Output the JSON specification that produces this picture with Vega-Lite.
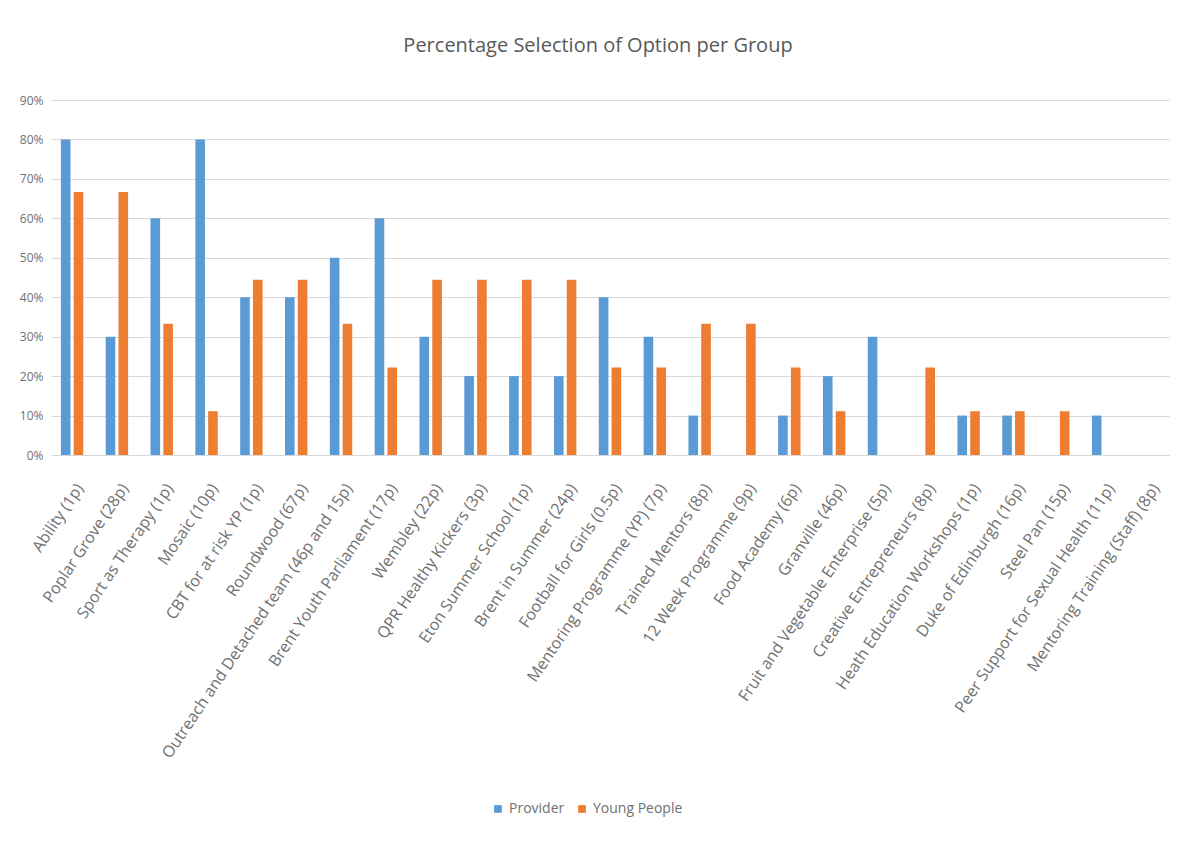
{
  "$schema": "https://vega.github.io/schema/vega-lite/v6.json",
  "width": 1118,
  "height": 355,
  "autosize": {"type": "none"},
  "padding": {"left": 51, "top": 100, "right": 20, "bottom": 391},
  "background": "white",
  "title": {
    "text": "Percentage Selection of Option per Group",
    "fontSize": 20,
    "font": "Open Sans",
    "fontWeight": "normal",
    "color": "#595959",
    "anchor": "middle",
    "offset": 38,
    "dx": -12
  },
  "data": {
    "values": [
      {"group": "Ability (1p)", "series": "Provider", "value": 0.8},
      {"group": "Ability (1p)", "series": "Young People", "value": 0.667},
      {"group": "Poplar Grove (28p)", "series": "Provider", "value": 0.3},
      {"group": "Poplar Grove (28p)", "series": "Young People", "value": 0.667},
      {"group": "Sport as Therapy (1p)", "series": "Provider", "value": 0.6},
      {"group": "Sport as Therapy (1p)", "series": "Young People", "value": 0.333},
      {"group": "Mosaic (10p)", "series": "Provider", "value": 0.8},
      {"group": "Mosaic (10p)", "series": "Young People", "value": 0.111},
      {"group": "CBT for at risk YP (1p)", "series": "Provider", "value": 0.4},
      {"group": "CBT for at risk YP (1p)", "series": "Young People", "value": 0.444},
      {"group": "Roundwood (67p)", "series": "Provider", "value": 0.4},
      {"group": "Roundwood (67p)", "series": "Young People", "value": 0.444},
      {"group": "Outreach and Detached team (46p and 15p)", "series": "Provider", "value": 0.5},
      {"group": "Outreach and Detached team (46p and 15p)", "series": "Young People", "value": 0.333},
      {"group": "Brent Youth Parliament (17p)", "series": "Provider", "value": 0.6},
      {"group": "Brent Youth Parliament (17p)", "series": "Young People", "value": 0.222},
      {"group": "Wembley (22p)", "series": "Provider", "value": 0.3},
      {"group": "Wembley (22p)", "series": "Young People", "value": 0.444},
      {"group": "QPR Healthy Kickers (3p)", "series": "Provider", "value": 0.2},
      {"group": "QPR Healthy Kickers (3p)", "series": "Young People", "value": 0.444},
      {"group": "Eton Summer School (1p)", "series": "Provider", "value": 0.2},
      {"group": "Eton Summer School (1p)", "series": "Young People", "value": 0.444},
      {"group": "Brent in Summer (24p)", "series": "Provider", "value": 0.2},
      {"group": "Brent in Summer (24p)", "series": "Young People", "value": 0.444},
      {"group": "Football for Girls (0.5p)", "series": "Provider", "value": 0.4},
      {"group": "Football for Girls (0.5p)", "series": "Young People", "value": 0.222},
      {"group": "Mentoring Programme (YP) (7p)", "series": "Provider", "value": 0.3},
      {"group": "Mentoring Programme (YP) (7p)", "series": "Young People", "value": 0.222},
      {"group": "Trained Mentors (8p)", "series": "Provider", "value": 0.1},
      {"group": "Trained Mentors (8p)", "series": "Young People", "value": 0.333},
      {"group": "12 Week Programme (9p)", "series": "Provider", "value": 0},
      {"group": "12 Week Programme (9p)", "series": "Young People", "value": 0.333},
      {"group": "Food Academy (6p)", "series": "Provider", "value": 0.1},
      {"group": "Food Academy (6p)", "series": "Young People", "value": 0.222},
      {"group": "Granville (46p)", "series": "Provider", "value": 0.2},
      {"group": "Granville (46p)", "series": "Young People", "value": 0.111},
      {"group": "Fruit and Vegetable Enterprise (5p)", "series": "Provider", "value": 0.3},
      {"group": "Fruit and Vegetable Enterprise (5p)", "series": "Young People", "value": 0},
      {"group": "Creative Entrepreneurs (8p)", "series": "Provider", "value": 0},
      {"group": "Creative Entrepreneurs (8p)", "series": "Young People", "value": 0.222},
      {"group": "Heath Education Workshops (1p)", "series": "Provider", "value": 0.1},
      {"group": "Heath Education Workshops (1p)", "series": "Young People", "value": 0.111},
      {"group": "Duke of Edinburgh (16p)", "series": "Provider", "value": 0.1},
      {"group": "Duke of Edinburgh (16p)", "series": "Young People", "value": 0.111},
      {"group": "Steel Pan (15p)", "series": "Provider", "value": 0},
      {"group": "Steel Pan (15p)", "series": "Young People", "value": 0.111},
      {"group": "Peer Support for Sexual Health (11p)", "series": "Provider", "value": 0.1},
      {"group": "Peer Support for Sexual Health (11p)", "series": "Young People", "value": 0},
      {"group": "Mentoring Training (Staff) (8p)", "series": "Provider", "value": 0},
      {"group": "Mentoring Training (Staff) (8p)", "series": "Young People", "value": 0}
    ]
  },
  "mark": {"type": "bar"},
  "encoding": {
    "x": {
      "field": "group",
      "type": "nominal",
      "sort": null,
      "title": null,
      "scale": {"paddingInner": 0.5, "paddingOuter": 0.22},
      "axis": {
        "labelAngle": -56,
        "labelFontSize": 16,
        "labelFont": "Open Sans",
        "labelColor": "#707070",
        "labelLimit": 450,
        "labelPadding": 30,
        "labelOffset": 8,
        "labelOverlap": false,
        "ticks": false,
        "domainColor": "#d9d9d9",
        "grid": false
      }
    },
    "xOffset": {
      "field": "series",
      "type": "nominal",
      "scale": {"paddingInner": 0.25}
    },
    "y": {
      "field": "value",
      "type": "quantitative",
      "title": null,
      "scale": {"domain": [0, 0.9], "nice": false},
      "axis": {
        "values": [0, 0.1, 0.2, 0.3, 0.4, 0.5, 0.6, 0.7, 0.8, 0.9],
        "format": ".0%",
        "labelFontSize": 12,
        "labelFont": "Open Sans",
        "labelColor": "#707070",
        "domain": false,
        "ticks": false,
        "labelPadding": 8,
        "gridColor": "#d9d9d9",
        "gridWidth": 1
      }
    },
    "color": {
      "field": "series",
      "type": "nominal",
      "scale": {"domain": ["Provider", "Young People"], "range": ["#5b9bd5", "#ed7d31"]},
      "legend": {
        "title": null,
        "orient": "none",
        "direction": "horizontal",
        "legendX": 440,
        "legendY": 702,
        "symbolType": "square",
        "symbolSize": 60,
        "labelFontSize": 14,
        "labelFont": "Open Sans",
        "labelColor": "#707070",
        "columnPadding": 10
      }
    }
  },
  "config": {
    "view": {"stroke": null}
  }
}
